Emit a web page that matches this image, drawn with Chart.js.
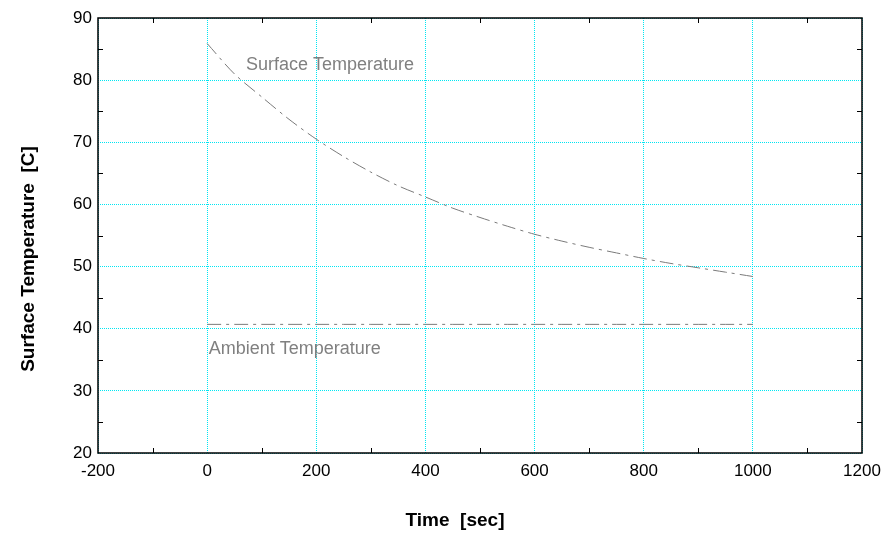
<!DOCTYPE html>
<html>
<head>
<meta charset="utf-8">
<script src="https://cdn.jsdelivr.net/npm/chart.js@4"></script>
<style>
  html, body { margin: 0; padding: 0; background: #fff; }
  #wrap { width: 882px; height: 537px; }
</style>
</head>
<body>
<div id="wrap"><canvas id="temp-chart" width="882" height="537"></canvas></div>
<script>
// time in seconds
var times = [0, 50, 100, 150, 200, 250, 300, 350, 400, 450, 500, 550, 600, 650, 700, 750, 800, 850, 900, 950, 1000];
// surface temperature [C]
var surfaceTemp = [85.9, 81.0, 77.3, 73.7, 70.5, 67.7, 65.2, 63.0, 61.2, 59.4, 57.9, 56.5, 55.2, 54.1, 53.1, 52.2, 51.3, 50.5, 49.8, 49.1, 48.4];
// ambient temperature [C]
var ambientTemp = [40.7, 40.7, 40.7, 40.7, 40.7, 40.7, 40.7, 40.7, 40.7, 40.7, 40.7, 40.7, 40.7, 40.7, 40.7, 40.7, 40.7, 40.7, 40.7, 40.7, 40.7];

var xTitle = 'Time  [sec]';
var yTitle = 'Surface Temperature  [C]';
var surfaceLabel = 'Surface Temperature';
var ambientLabel = 'Ambient Temperature';

function toPoints(xs, ys) {
    var pts = [];
    for (var i = 0; i < xs.length; i++) {
        pts.push({x: xs[i], y: ys[i]});
    }
    return pts;
}

var FONT = '"Liberation Sans", Arial, sans-serif';
var GRID = '#00e6f2';

// plain numbers, no thousands separator
function plain(value) {
    return String(value);
}

// frame, inward minor ticks, curve labels and axis titles
var framePlugin = {
    id: 'frame',
    afterDraw: function(chart) {
        var ctx = chart.ctx;
        var a = chart.chartArea;
        var xs = chart.scales.x;
        var ys = chart.scales.y;
        ctx.save();

        ctx.strokeStyle = '#000';
        ctx.lineWidth = 1;
        ctx.beginPath();
        for (var t = -100; t < 1200; t += 200) {
            var px = Math.round(xs.getPixelForValue(t)) + 0.5;
            ctx.moveTo(px, a.bottom); ctx.lineTo(px, a.bottom - 5);
            ctx.moveTo(px, a.top); ctx.lineTo(px, a.top + 5);
        }
        for (var v = 25; v < 90; v += 10) {
            var py = Math.round(ys.getPixelForValue(v)) + 0.5;
            ctx.moveTo(a.left, py); ctx.lineTo(a.left + 5, py);
            ctx.moveTo(a.right, py); ctx.lineTo(a.right - 5, py);
        }
        ctx.stroke();

        ctx.lineWidth = 1.5;
        ctx.strokeRect(a.left, a.top, a.right - a.left, a.bottom - a.top);

        ctx.fillStyle = '#808080';
        ctx.font = '18px ' + FONT;
        ctx.textAlign = 'left';
        ctx.textBaseline = 'alphabetic';
        ctx.fillText(surfaceLabel, xs.getPixelForValue(71), ys.getPixelForValue(81.6));
        ctx.fillText(ambientLabel, xs.getPixelForValue(3), ys.getPixelForValue(36.0));

        ctx.fillStyle = '#000';
        ctx.font = 'bold 19px ' + FONT;
        ctx.textAlign = 'center';
        ctx.textBaseline = 'middle';
        ctx.fillText(xTitle, 455, 521);
        ctx.translate(29, 259);
        ctx.rotate(-Math.PI / 2);
        ctx.fillText(yTitle, 0, 0);
        ctx.restore();
    }
};

var ctx = document.getElementById('temp-chart');
var chart = new Chart(ctx, {
    type: 'line',
    data: {
        datasets: [
            {
                label: surfaceLabel,
                data: toPoints(times, surfaceTemp),
                borderColor: '#7a7a7a',
                borderWidth: 1,
                borderDash: [14, 5, 3, 5],
                pointRadius: 0,
                tension: 0.3,
                fill: false
            },
            {
                label: ambientLabel,
                data: toPoints(times, ambientTemp),
                borderColor: '#7a7a7a',
                borderWidth: 1,
                borderDash: [14, 5, 3, 5],
                pointRadius: 0,
                fill: false
            }
        ]
    },
    options: {
        responsive: false,
        animation: false,
        layout: {
            padding: {top: 18, right: 20, left: 0, bottom: 0}
        },
        plugins: {
            legend: {display: false},
            tooltip: {enabled: false}
        },
        scales: {
            x: {
                type: 'linear',
                min: -200,
                max: 1200,
                afterFit: function(s) {
                    s.height = 84;
                    s.paddingLeft = 0;
                    s.paddingRight = 0;
                },
                ticks: {
                    stepSize: 200,
                    color: '#000',
                    padding: 8,
                    maxRotation: 0,
                    callback: plain,
                    font: {family: FONT, size: 17}
                },
                grid: {
                    color: GRID,
                    lineWidth: 1,
                    drawTicks: false
                },
                border: {display: false, dash: [1, 1]}
            },
            y: {
                min: 20,
                max: 90,
                afterFit: function(s) {
                    s.width = 98;
                    s.paddingTop = 0;
                    s.paddingBottom = 0;
                },
                ticks: {
                    stepSize: 10,
                    color: '#000',
                    padding: 6,
                    callback: plain,
                    font: {family: FONT, size: 17}
                },
                grid: {
                    color: GRID,
                    lineWidth: 1,
                    drawTicks: false
                },
                border: {display: false, dash: [1, 1]}
            }
        }
    },
    plugins: [framePlugin]
});
</script>
</body>
</html>
